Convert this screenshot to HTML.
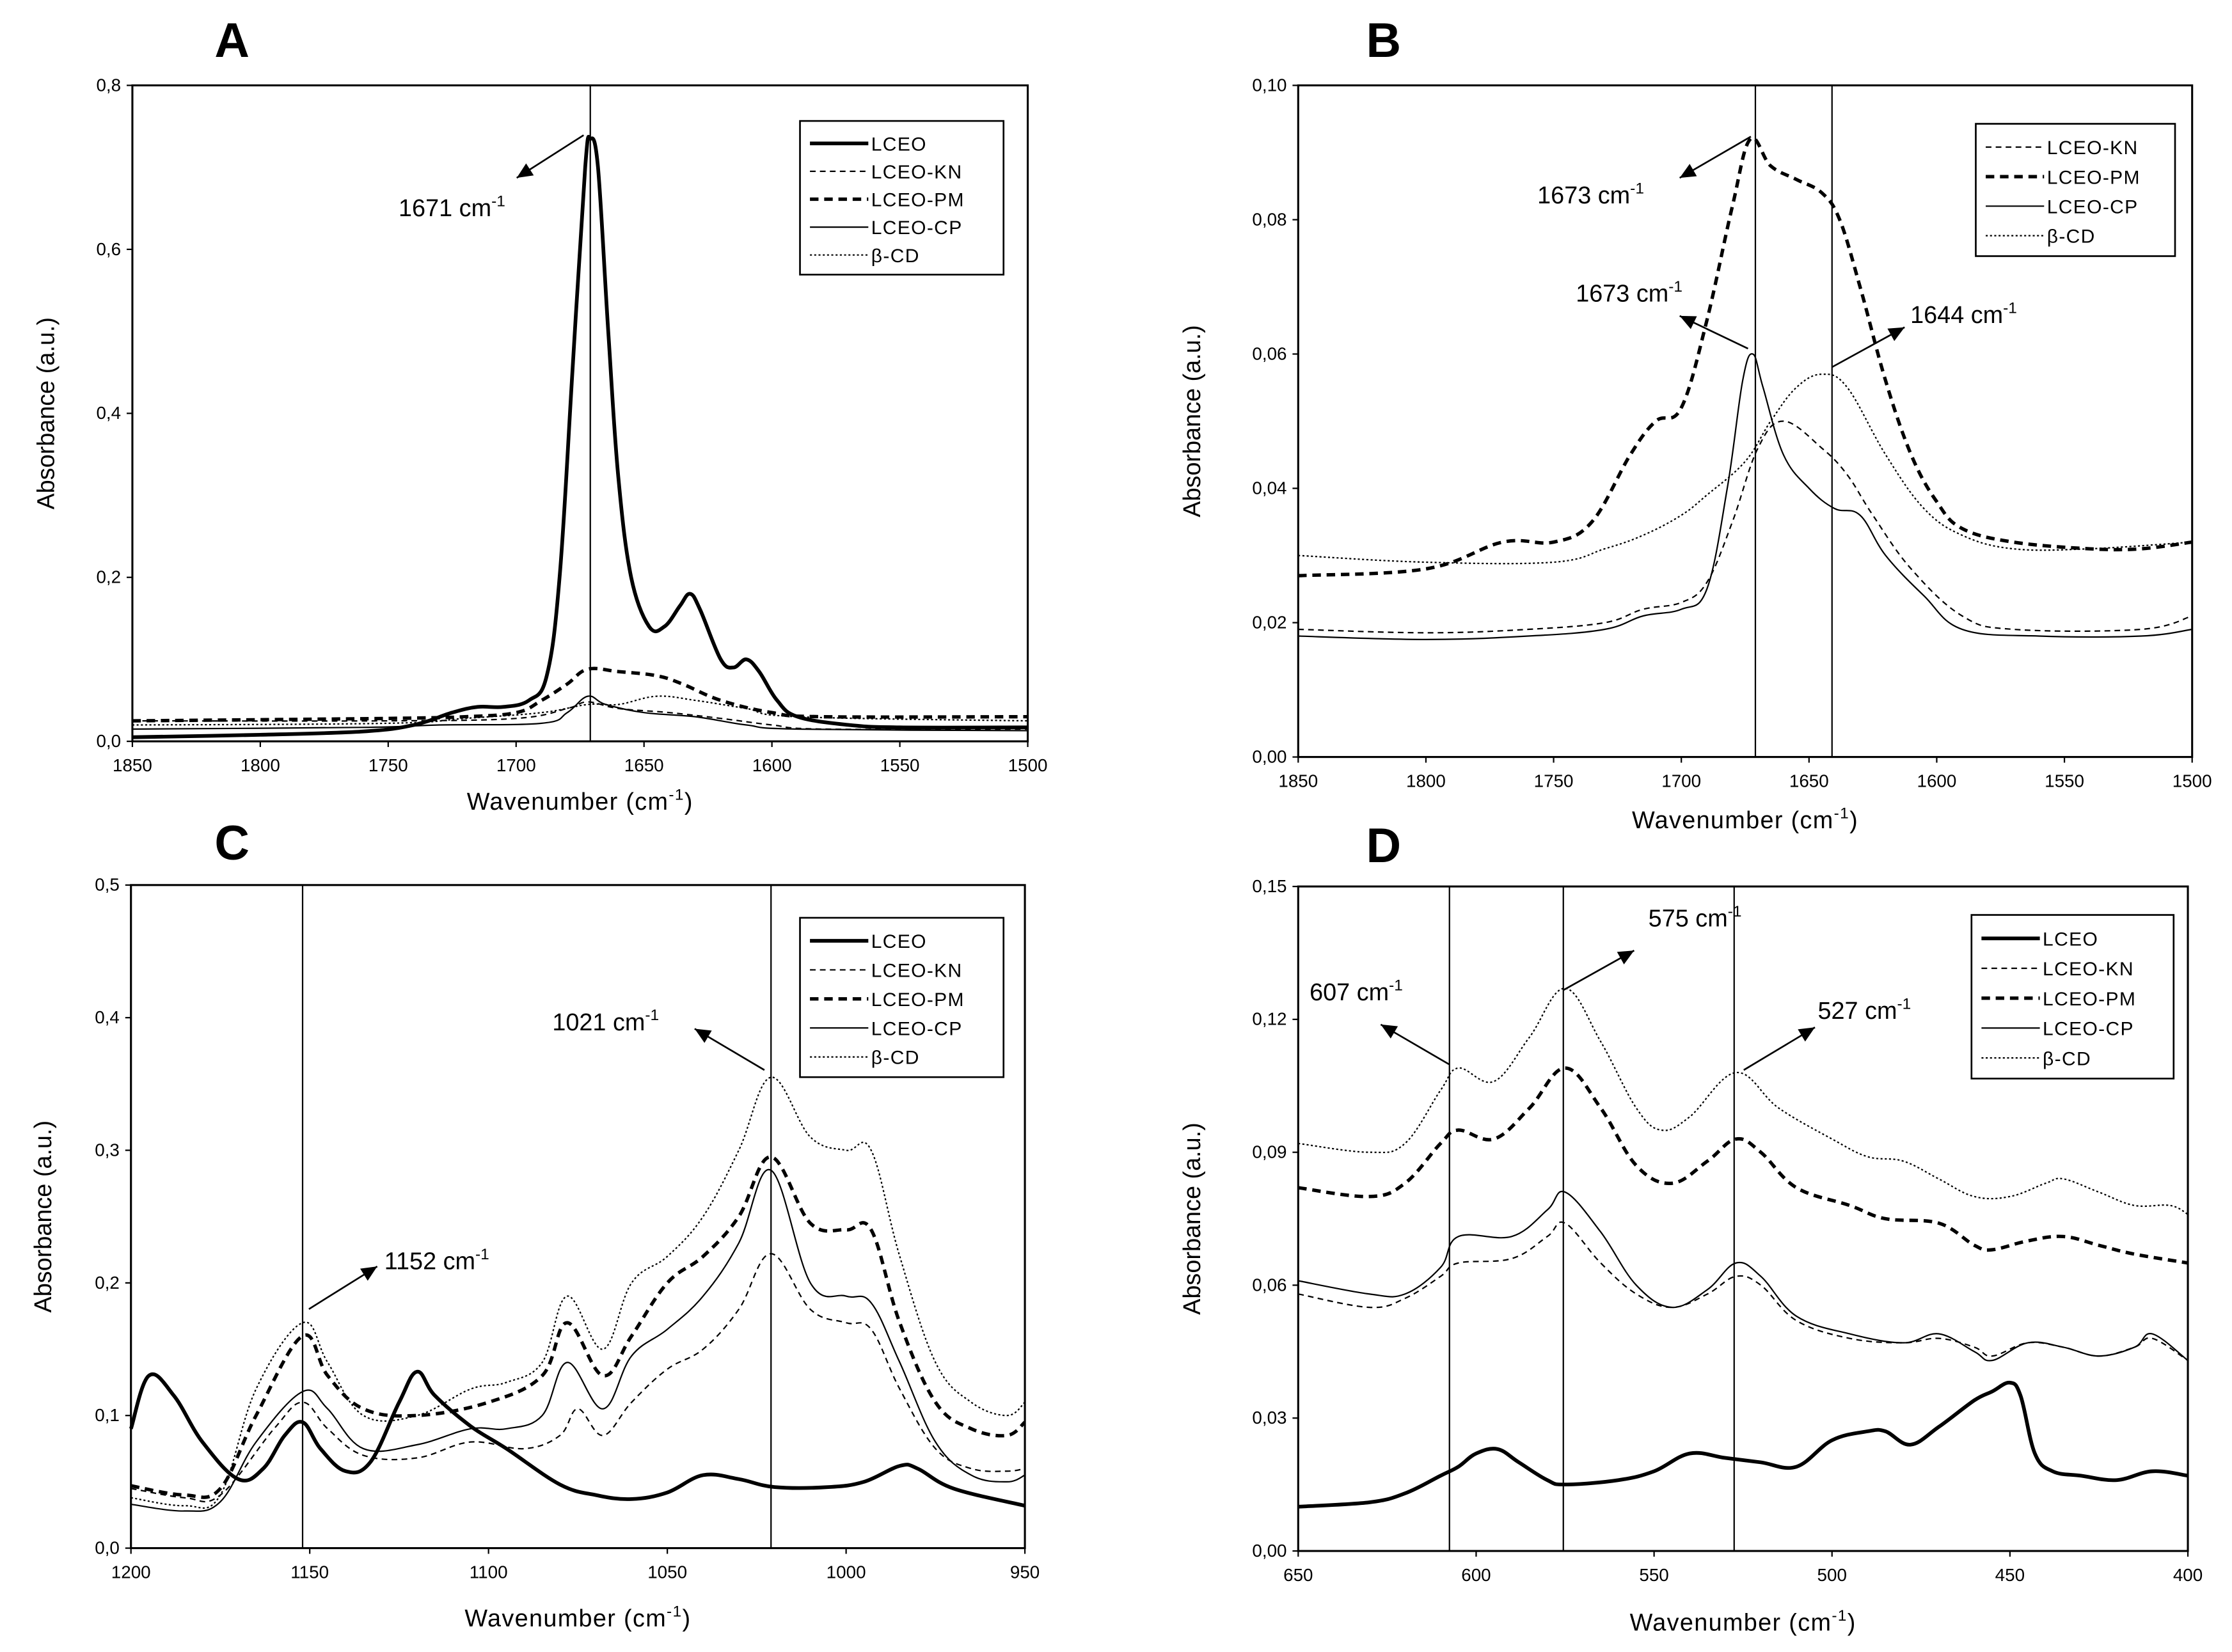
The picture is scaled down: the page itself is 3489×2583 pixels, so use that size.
<!DOCTYPE html>
<html><head><meta charset="utf-8"><style>
html,body{margin:0;padding:0;background:#fff}
svg{display:block}
text{font-family:"Liberation Sans",sans-serif;fill:#000}
</style></head><body>
<svg id="fig" width="3489" height="2583" viewBox="0 0 1568 1161" preserveAspectRatio="none" xmlns="http://www.w3.org/2000/svg">
<rect width="1568" height="1161" fill="#fff"/>
</svg>
<script>
// ---------- Panel A data ----------
const aLCEO_x=[1850,1800,1760,1740,1725,1715,1705,1695,1688,1683,1678,1673,1671,1668,1664,1660,1655,1648,1642,1636,1632,1628,1620,1615,1610,1605,1598,1590,1570,1550,1500];
const aLCEO_y=[0.005,0.008,0.012,0.02,0.035,0.042,0.042,0.05,0.08,0.2,0.45,0.7,0.735,0.7,0.5,0.32,0.2,0.14,0.14,0.165,0.18,0.16,0.1,0.09,0.1,0.085,0.05,0.03,0.02,0.017,0.017];
const aKN_x=[1850,1750,1700,1680,1672,1660,1640,1620,1600,1580,1500];
const aKN_y=[0.025,0.025,0.028,0.04,0.048,0.04,0.035,0.028,0.02,0.015,0.015];
const aPM_x=[1850,1750,1720,1700,1690,1680,1672,1660,1645,1635,1620,1600,1580,1500];
const aPM_y=[0.025,0.028,0.03,0.035,0.05,0.07,0.088,0.085,0.08,0.07,0.05,0.035,0.03,0.03];
const aCP_x=[1850,1760,1730,1690,1680,1672,1665,1650,1630,1610,1590,1500];
const aCP_y=[0.015,0.017,0.02,0.022,0.035,0.055,0.045,0.035,0.03,0.02,0.015,0.013];
const aBCD_x=[1850,1750,1720,1690,1672,1660,1645,1630,1610,1590,1500];
const aBCD_y=[0.02,0.022,0.028,0.035,0.045,0.045,0.055,0.05,0.04,0.03,0.025];
const aXTicks=[1850,1800,1750,1700,1650,1600,1550,1500];
const aYTicks=[0,0.2,0.4,0.6,0.8];
const aYLabels=["0,0","0,2","0,4","0,6","0,8"];
// ---------- Panel B data ----------
const bKN_x=[1850,1800,1760,1730,1715,1700,1690,1680,1670,1660,1645,1635,1625,1610,1590,1570,1520,1500];
const bKN_y=[0.019,0.0185,0.019,0.02,0.022,0.023,0.026,0.035,0.046,0.05,0.046,0.042,0.036,0.028,0.021,0.019,0.019,0.021];
const bPM_x=[1850,1800,1770,1750,1735,1720,1710,1700,1690,1680,1673,1665,1655,1645,1638,1630,1620,1610,1600,1590,1570,1540,1520,1500];
const bPM_y=[0.027,0.028,0.032,0.032,0.035,0.045,0.05,0.052,0.065,0.082,0.092,0.088,0.086,0.084,0.08,0.07,0.056,0.045,0.038,0.034,0.032,0.031,0.031,0.032];
const bCP_x=[1850,1800,1760,1730,1715,1700,1690,1682,1676,1672,1668,1660,1650,1640,1630,1620,1605,1590,1560,1520,1500];
const bCP_y=[0.018,0.0175,0.018,0.019,0.021,0.022,0.025,0.04,0.056,0.06,0.055,0.045,0.04,0.037,0.036,0.03,0.024,0.019,0.018,0.018,0.019];
const bBCD_x=[1850,1800,1750,1730,1715,1700,1690,1675,1665,1655,1645,1635,1620,1605,1590,1570,1540,1500];
const bBCD_y=[0.03,0.029,0.029,0.031,0.033,0.036,0.039,0.044,0.05,0.055,0.057,0.055,0.045,0.037,0.033,0.031,0.031,0.032];
const bXTicks=[1850,1800,1750,1700,1650,1600,1550,1500];
const bYTicks=[0,0.02,0.04,0.06,0.08,0.10];
const bYLabels=["0,00","0,02","0,04","0,06","0,08","0,10"];
// ---------- Panel C data ----------
const cLCEO_x=[1200,1195,1188,1180,1170,1163,1157,1152,1147,1140,1133,1125,1120,1115,1105,1095,1080,1070,1060,1050,1040,1030,1020,1005,995,985,980,970,950];
const cLCEO_y=[0.09,0.13,0.115,0.08,0.052,0.06,0.085,0.095,0.075,0.058,0.065,0.11,0.133,0.115,0.092,0.075,0.048,0.04,0.037,0.042,0.055,0.052,0.046,0.046,0.05,0.062,0.06,0.045,0.032];
const cKN_x=[1200,1185,1175,1160,1152,1145,1135,1120,1105,1090,1080,1075,1068,1060,1050,1040,1030,1021,1010,1000,993,985,975,965,955,950];
const cKN_y=[0.045,0.038,0.04,0.09,0.11,0.09,0.07,0.068,0.08,0.075,0.085,0.105,0.085,0.11,0.135,0.15,0.18,0.222,0.18,0.17,0.165,0.12,0.075,0.06,0.058,0.06];
const cPM_x=[1200,1185,1175,1165,1152,1145,1135,1120,1100,1085,1078,1068,1060,1050,1040,1030,1021,1010,1000,993,985,975,965,955,950];
const cPM_y=[0.047,0.04,0.045,0.1,0.16,0.13,0.105,0.1,0.11,0.13,0.17,0.13,0.16,0.2,0.22,0.25,0.295,0.245,0.24,0.24,0.17,0.11,0.09,0.085,0.095];
const cCP_x=[1200,1185,1175,1165,1152,1145,1135,1120,1105,1095,1085,1078,1068,1060,1050,1040,1030,1021,1010,1000,993,985,975,965,955,950];
const cCP_y=[0.033,0.028,0.035,0.08,0.118,0.105,0.075,0.078,0.09,0.09,0.1,0.14,0.105,0.145,0.165,0.19,0.23,0.285,0.2,0.19,0.185,0.14,0.08,0.055,0.05,0.055];
const cBCD_x=[1200,1185,1175,1165,1152,1145,1135,1120,1105,1095,1085,1078,1068,1060,1050,1040,1030,1021,1010,1000,993,985,975,965,955,950];
const cBCD_y=[0.038,0.032,0.04,0.12,0.17,0.14,0.1,0.1,0.12,0.125,0.14,0.19,0.15,0.2,0.22,0.25,0.3,0.355,0.31,0.3,0.3,0.22,0.14,0.11,0.1,0.11];
const cXTicks=[1200,1150,1100,1050,1000,950];
const cYTicks=[0,0.1,0.2,0.3,0.4,0.5];
const cYLabels=["0,0","0,1","0,2","0,3","0,4","0,5"];
// ---------- Panel D data ----------
const dLCEO_x=[650,630,620,610,605,600,594,588,580,575,560,550,540,530,520,510,500,490,485,478,470,460,455,450,447,443,438,430,420,410,400];
const dLCEO_y=[0.01,0.011,0.013,0.017,0.019,0.022,0.023,0.02,0.016,0.015,0.016,0.018,0.022,0.021,0.02,0.019,0.025,0.027,0.027,0.024,0.028,0.034,0.036,0.038,0.035,0.022,0.018,0.017,0.016,0.018,0.017];
const dKN_x=[650,630,620,610,605,590,580,575,565,555,545,535,527,520,510,495,480,470,460,455,445,435,425,415,410,400];
const dKN_y=[0.058,0.055,0.057,0.062,0.065,0.066,0.071,0.074,0.065,0.058,0.055,0.058,0.062,0.06,0.052,0.048,0.047,0.048,0.046,0.044,0.047,0.046,0.044,0.046,0.048,0.043];
const dPM_x=[650,630,620,610,605,595,585,575,565,555,545,535,527,520,510,495,485,470,460,455,445,435,425,415,400];
const dPM_y=[0.082,0.08,0.083,0.092,0.095,0.093,0.1,0.109,0.1,0.087,0.083,0.088,0.093,0.09,0.082,0.078,0.075,0.074,0.069,0.068,0.07,0.071,0.069,0.067,0.065];
const dCP_x=[650,630,620,610,605,590,580,575,565,555,545,535,527,520,510,495,480,470,460,455,445,435,425,415,410,400];
const dCP_y=[0.061,0.058,0.058,0.064,0.071,0.071,0.077,0.081,0.072,0.06,0.055,0.059,0.065,0.062,0.053,0.049,0.047,0.049,0.045,0.043,0.047,0.046,0.044,0.046,0.049,0.043];
const dBCD_x=[650,630,620,610,605,595,585,575,565,555,548,540,527,515,500,490,480,470,460,450,440,435,425,415,405,400];
const dBCD_y=[0.092,0.09,0.092,0.104,0.109,0.106,0.116,0.127,0.115,0.1,0.095,0.098,0.108,0.1,0.093,0.089,0.088,0.084,0.08,0.08,0.083,0.084,0.081,0.078,0.078,0.076];
const dXTicks=[650,600,550,500,450,400];
const dYTicks=[0,0.03,0.06,0.09,0.12,0.15];
const dYLabels=["0,00","0,03","0,06","0,09","0,12","0,15"];

const NS="http://www.w3.org/2000/svg";
const svg=document.getElementById('fig');
const STY={
 LCEO:{w:2.6,d:null},
 KN:{w:1,d:"4,3"},
 PM:{w:2.4,d:"6,4"},
 CP:{w:1,d:null},
 BCD:{w:1,d:"1.4,1.6"}
};
const NAMES={LCEO:"LCEO",KN:"LCEO-KN",PM:"LCEO-PM",CP:"LCEO-CP",BCD:"β-CD"};
function el(tag,attrs,parent){const e=document.createElementNS(NS,tag);for(const k in attrs)e.setAttribute(k,attrs[k]);(parent||svg).appendChild(e);return e;}
function txt(x,y,s,size,anchor,parent){const t=el('text',{x:x,y:y,'font-size':size,'text-anchor':anchor||'start'},parent);t.textContent=s;return t;}
function smoothPath(P){
 let d='M'+P[0][0].toFixed(1)+','+P[0][1].toFixed(1);
 for(let i=0;i<P.length-1;i++){
  const p0=P[i-1]||P[i],p1=P[i],p2=P[i+1],p3=P[i+2]||P[i+1];
  const t=0.18;
  const c1=[p1[0]+(p2[0]-p0[0])*t,p1[1]+(p2[1]-p0[1])*t];
  const c2=[p2[0]-(p3[0]-p1[0])*t,p2[1]-(p3[1]-p1[1])*t];
  d+=` C${c1[0].toFixed(1)},${c1[1].toFixed(1)} ${c2[0].toFixed(1)},${c2[1].toFixed(1)} ${p2[0].toFixed(1)},${p2[1].toFixed(1)}`;
 }
 return d;
}

function panel(cfg){
 const g=el('g',{});
 
 
 const L=cfg.box[0],R=cfg.box[1],T=cfg.box[2],B=cfg.box[3];
 const sx=v=>L+(cfg.xr[0]-v)/(cfg.xr[0]-cfg.xr[1])*(R-L);
 const sy=v=>B-(v-cfg.yr[0])/(cfg.yr[1]-cfg.yr[0])*(B-T);
 const lt=txt(cfg.letter[0],cfg.letter[1],cfg.id.toUpperCase(),34,'middle',g);
 lt.setAttribute('font-weight','bold');
 
 
 cfg.series.forEach(s=>{
  const P=s.x.map((xv,i)=>[sx(xv),sy(s.y[i])]);
  const st=STY[s.k];
  const p=el('path',{d:smoothPath(P),fill:'none',stroke:'#000','stroke-width':st.w,'stroke-linejoin':'round'},g);
  if(st.d)p.setAttribute('stroke-dasharray',st.d);
  
  
 });
 cfg.vlines.forEach(v=>{
  const l=el('line',{x1:sx(v),x2:sx(v),y1:T,y2:B,stroke:'#000','stroke-width':1},g);
  
  
 });
 const bx=el('rect',{x:L,y:T,width:R-L,height:B-T,fill:'none',stroke:'#000','stroke-width':1.4},g);
 
 
 cfg.xt.forEach(v=>{
  el('line',{x1:sx(v),x2:sx(v),y1:B,y2:B+4,stroke:'#000','stroke-width':1},g);
  const t=txt(sx(v),B+21,String(v),12.5,'middle',g);
  
  
 });
 cfg.yt.forEach((v,i)=>{
  el('line',{x1:L-4,x2:L,y1:sy(v),y2:sy(v),stroke:'#000','stroke-width':1},g);
  const t=txt(L-8,sy(v)+4,cfg.yl[i],12.5,'end',g);
  
  
 });
 const xt=el('text',{x:(L+R)/2,y:cfg.xtitleY,'font-size':17,'text-anchor':'middle','letter-spacing':'0.6'},g);
 xt.innerHTML='Wavenumber (cm<tspan dy="-7" font-size="11">-1</tspan><tspan dy="7">)</tspan>';
 
 
 const yt=el('text',{x:0,y:0,'font-size':17,'text-anchor':'middle',transform:`translate(${cfg.ytitleX},${(T+B)/2}) rotate(-90)`},g);
 yt.textContent='Absorbance (a.u.)';
 
 
 const lg=cfg.legend;
 const lgG=el('g',{},g);
 
 
 el('rect',{x:lg[0],y:lg[1],width:lg[2]-lg[0],height:lg[3]-lg[1],fill:'#fff',stroke:'#000','stroke-width':1.2},lgG);
 const n=cfg.keys.length, rowH=(lg[3]-lg[1]-10)/n;
 cfg.keys.forEach((k,i)=>{
  const y=lg[1]+6+rowH*(i+0.5);
  const st=STY[k];
  const ln=el('line',{x1:lg[0]+7,x2:lg[0]+48,y1:y,y2:y,stroke:'#000','stroke-width':st.w},lgG);
  if(st.d)ln.setAttribute('stroke-dasharray',st.d);
  const t=txt(lg[0]+50,y+5,NAMES[k],13.5,'start',lgG);
  t.setAttribute('letter-spacing','0.6');
  
  
 });
 cfg.ann.forEach(a=>{
  const ag=el('g',{},g);
  
  
  const x1=a.a[0],y1=a.a[1],x2=a.a[2],y2=a.a[3];
  el('line',{x1:x1,y1:y1,x2:x2,y2:y2,stroke:'#000','stroke-width':1.2},ag);
  const ang=Math.atan2(y2-y1,x2-x1),h=11,w=5;
  const bxp=x2-h*Math.cos(ang),byp=y2-h*Math.sin(ang);
  el('polygon',{points:`${x2},${y2} ${bxp+w*Math.sin(ang)},${byp-w*Math.cos(ang)} ${bxp-w*Math.sin(ang)},${byp+w*Math.cos(ang)}`,fill:'#000'},ag);
  const t=el('text',{x:a.p[0],y:a.p[1],'font-size':17},ag);
  t.innerHTML=a.t+' cm<tspan dy="-7" font-size="11">-1</tspan>';
 });
}

panel({id:'a',box:[93,722,60,521],xr:[1850,1500],yr:[0,0.8],xt:aXTicks,yt:aYTicks,yl:aYLabels,
 letter:[163,40],xtitleY:569,ytitleX:38,legend:[562,85,705,193],keys:['LCEO','KN','PM','CP','BCD'],vlines:[1671],
 series:[{k:'KN',x:aKN_x,y:aKN_y},{k:'PM',x:aPM_x,y:aPM_y},{k:'CP',x:aCP_x,y:aCP_y},{k:'BCD',x:aBCD_x,y:aBCD_y},{k:'LCEO',x:aLCEO_x,y:aLCEO_y}],
 ann:[{t:'1671',p:[280,152],a:[410,95,363,125]}]});
panel({id:'b',box:[912,1540,60,532],xr:[1850,1500],yr:[0,0.10],xt:bXTicks,yt:bYTicks,yl:bYLabels,
 letter:[972,40],xtitleY:582,ytitleX:843,legend:[1388,87,1528,180],keys:['KN','PM','CP','BCD'],vlines:[1671,1641],
 series:[{k:'KN',x:bKN_x,y:bKN_y},{k:'PM',x:bPM_x,y:bPM_y},{k:'CP',x:bCP_x,y:bCP_y},{k:'BCD',x:bBCD_x,y:bBCD_y}],
 ann:[{t:'1673',p:[1080,143],a:[1230,96,1180,125]},{t:'1673',p:[1107,212],a:[1228,245,1180,222]},{t:'1644',p:[1342,227],a:[1287,258,1338,230]}]});
panel({id:'c',box:[92,720,622,1088],xr:[1200,950],yr:[0,0.5],xt:cXTicks,yt:cYTicks,yl:cYLabels,
 letter:[163,604],xtitleY:1143,ytitleX:36,legend:[562,645,705,757],keys:['LCEO','KN','PM','CP','BCD'],vlines:[1152,1021],
 series:[{k:'KN',x:cKN_x,y:cKN_y},{k:'PM',x:cPM_x,y:cPM_y},{k:'CP',x:cCP_x,y:cCP_y},{k:'BCD',x:cBCD_x,y:cBCD_y},{k:'LCEO',x:cLCEO_x,y:cLCEO_y}],
 ann:[{t:'1152',p:[270,892],a:[217,920,265,890]},{t:'1021',p:[388,724],a:[537,752,488,723]}]});
panel({id:'d',box:[912,1537,623,1090],xr:[650,400],yr:[0,0.15],xt:dXTicks,yt:dYTicks,yl:dYLabels,
 letter:[972,606],xtitleY:1146,ytitleX:843,legend:[1385,643,1527,758],keys:['LCEO','KN','PM','CP','BCD'],vlines:[607.5,575.5,527.5],
 series:[{k:'KN',x:dKN_x,y:dKN_y},{k:'PM',x:dPM_x,y:dPM_y},{k:'CP',x:dCP_x,y:dCP_y},{k:'BCD',x:dBCD_x,y:dBCD_y},{k:'LCEO',x:dLCEO_x,y:dLCEO_y}],
 ann:[{t:'607',p:[920,703],a:[1018,748,970,720]},{t:'575',p:[1158,651],a:[1098,696,1148,668]},{t:'527',p:[1277,716],a:[1225,752,1275,722]}]});
</script>
</body></html>
